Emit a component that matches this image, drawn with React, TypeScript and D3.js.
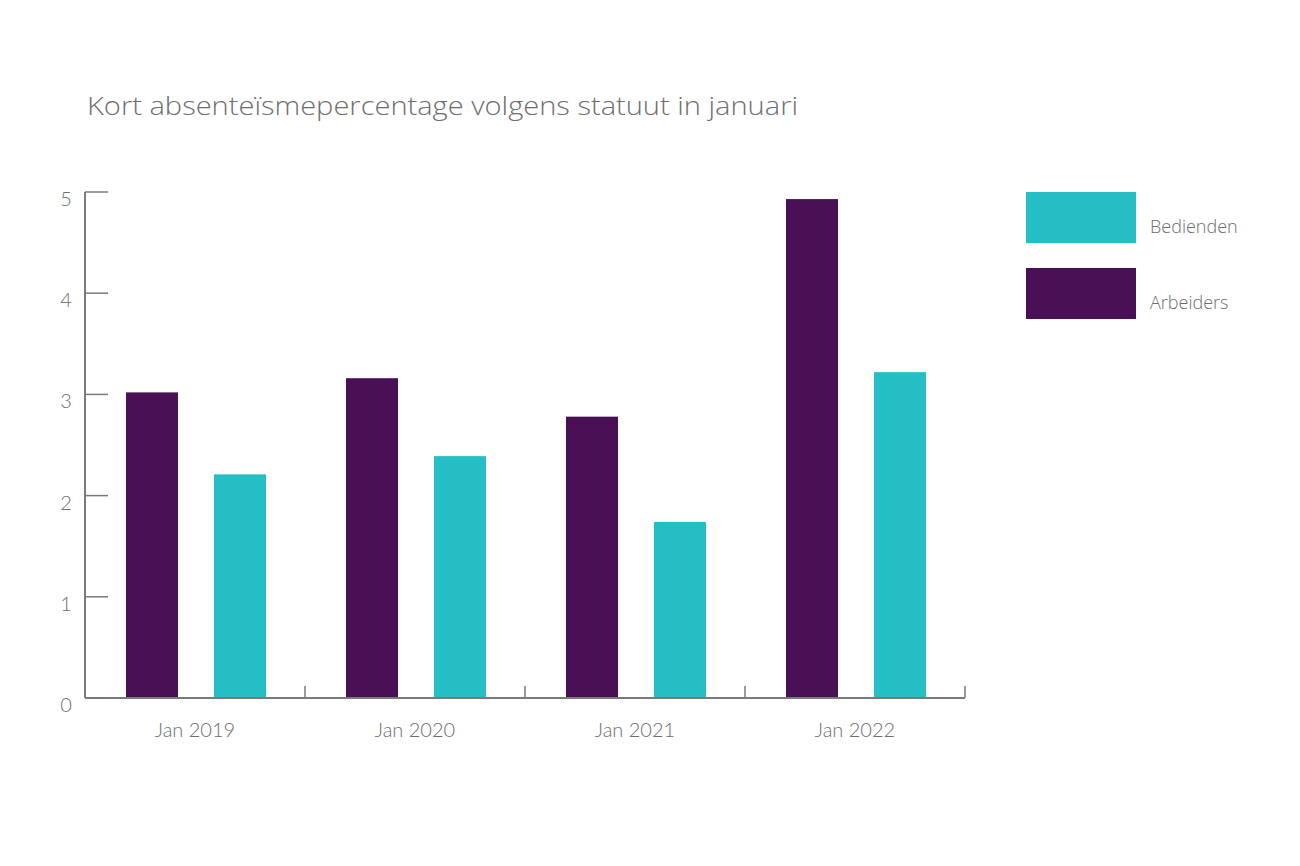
import React from "react";
import * as d3 from "d3";

const categories = ["Jan 2019", "Jan 2020", "Jan 2021", "Jan 2022"];
const arbeiders = [3.02, 3.16, 2.78, 4.93];
const bedienden = [2.21, 2.39, 1.74, 3.22];
const yTicks = [0, 1, 2, 3, 4, 5];
const seriesNames = ["Bedienden", "Arbeiders"];
const title = "Kort absenteïsmepercentage volgens statuut in januari";

const PURPLE = "#491055";
const TEAL = "#24bec4";
const AXIS = "#7a7a7a";
const TEXT = "#6e6e6e";

export default function App() {
  const x0 = 85, x1 = 965, y0 = 698, y1 = 192;
  const x = d3.scaleBand<string>().domain(categories).range([x0, x1]);
  const y = d3.scaleLinear().domain([0, 5]).range([y0, y1]);
  const bw = x.bandwidth();
  const barW = bw * (52 / 220);
  const offA = bw * (41 / 220);
  const offB = bw * (129 / 220);
  const legendColors = [TEAL, PURPLE];
  return (
    <svg width={1300} height={866} style={{ position: "absolute", left: 0, top: 0, background: "#fff" }}
      fontFamily="Lato, 'Open Sans', sans-serif">
      <text x={87} y={115} fontSize={26} fill={TEXT} fontFamily="'Open Sans', sans-serif" fontWeight={300}
        textLength={711} lengthAdjust="spacingAndGlyphs">{title}</text>
      {categories.map((c, i) => (
        <g key={c}>
          <rect x={(x(c) as number) + offA} y={y(arbeiders[i])} width={barW} height={y0 - y(arbeiders[i])} fill={PURPLE} />
          <rect x={(x(c) as number) + offB} y={y(bedienden[i])} width={barW} height={y0 - y(bedienden[i])} fill={TEAL} />
          <line x1={(x(c) as number) + bw} x2={(x(c) as number) + bw} y1={y0} y2={y0 - 12} stroke={AXIS} strokeWidth={1.5} />
          <text x={(x(c) as number) + bw / 2} y={737} textAnchor="middle" fontSize={20} fontWeight={300} fill={TEXT}>{c}</text>
        </g>
      ))}
      <line x1={x0} x2={x1} y1={y0} y2={y0} stroke={AXIS} strokeWidth={2} />
      <line x1={x0} x2={x0} y1={y1} y2={y0} stroke={AXIS} strokeWidth={2} />
      {yTicks.map((t) => (
        <g key={t}>
          <line x1={x0} x2={x0 + 23} y1={y(t)} y2={y(t)} stroke={AXIS} strokeWidth={1.5} />
          <text x={66} y={y(t) + 14} textAnchor="middle" fontSize={20} fontWeight={300} fill={TEXT}>{t}</text>
        </g>
      ))}
      {seriesNames.map((s, i) => (
        <g key={s}>
          <rect x={1026} y={192 + i * 76} width={110} height={51} fill={legendColors[i]} />
          <text x={1150} y={233 + i * 76} fontSize={18} fill={TEXT} fontFamily="'Open Sans', sans-serif" fontWeight={300}>{s}</text>
        </g>
      ))}
    </svg>
  );
}
